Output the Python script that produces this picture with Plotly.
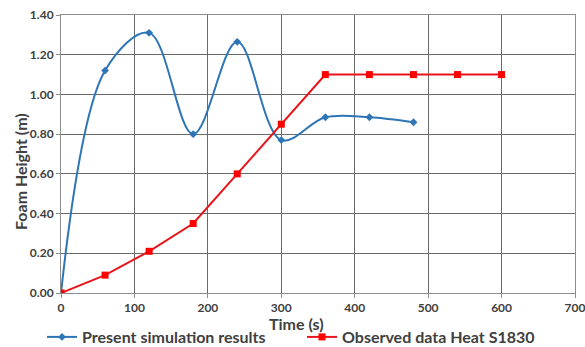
import plotly.graph_objects as go

sim_time = [0, 60, 120, 180, 240, 300, 360, 420, 480]
sim_height = [0.00, 1.12, 1.31, 0.80, 1.265, 0.77, 0.885, 0.885, 0.86]
obs_time = [0, 60, 120, 180, 240, 300, 360, 420, 480, 540, 600]
obs_height = [0.00, 0.09, 0.21, 0.35, 0.60, 0.85, 1.10, 1.10, 1.10, 1.10, 1.10]
x_ticks = [0, 100, 200, 300, 400, 500, 600, 700]
y_ticks = [0.0, 0.2, 0.4, 0.6, 0.8, 1.0, 1.2, 1.4]

FONT = "Lato"
TXT = "#404040"
W, H = 585, 347
L, R, T, B = 61, 10, 15, 54          # page-pixel plot box
PW, PH = W - L - R, H - T - B
BOT = T + PH


def px(x):
    return (x - L) / PW


def py(y):
    return (BOT - y) / PH


fig = go.Figure()
fig.add_trace(go.Scatter(
    x=sim_time, y=sim_height, name="Present simulation results",
    mode="lines+markers", line=dict(color="#2E75B6", width=2, shape="spline", smoothing=1.0),
    marker=dict(symbol="diamond", size=6, color="#2E75B6")))
fig.add_trace(go.Scatter(
    x=obs_time, y=obs_height, name="Observed data Heat S1830",
    mode="lines+markers", line=dict(color="#E8141B", width=2),
    marker=dict(symbol="square", size=7, color="#FF0000")))

axis_common = dict(
    showgrid=True, gridcolor="#6A6A6A", gridwidth=1,
    showline=True, linecolor="#8C8C8C", linewidth=1, mirror=True,
    ticks="outside", ticklen=4, tickcolor="#8C8C8C",
    tickfont=dict(family=FONT, size=12, color=TXT, weight="bold"),
    ticklabeloverflow="allow",
    zeroline=False, automargin=False,
)
fig.update_xaxes(range=[0, 700], tickvals=x_ticks, ticktext=[str(v) for v in x_ticks], **axis_common)
fig.update_yaxes(range=[0, 1.4], tickvals=y_ticks, ticktext=[f"{v:.2f}" for v in y_ticks], **axis_common)

fig.add_annotation(text="Time (s)", xref="paper", yref="paper",
                   x=px(296), y=py(323), showarrow=False,
                   xanchor="center", yanchor="middle",
                   font=dict(family=FONT, size=16, color=TXT, weight="bold"))
fig.add_annotation(text="Foam Height (m)", xref="paper", yref="paper",
                   x=px(20), y=py(172), showarrow=False, textangle=-90,
                   xanchor="center", yanchor="middle",
                   font=dict(family=FONT, size=16, color=TXT, weight="bold"))

fig.update_layout(
    width=W, height=H,
    margin=dict(l=L, r=R, t=T, b=B, autoexpand=False),
    paper_bgcolor="white", plot_bgcolor="white",
    showlegend=True,
    legend=dict(orientation="h", x=px(42), xanchor="left",
                y=py(320), yanchor="top",
                font=dict(family=FONT, size=16, color=TXT, weight="bold"),
                entrywidth=215, entrywidthmode="pixels",
                bgcolor="rgba(0,0,0,0)", itemwidth=30,
                tracegroupgap=0),
)
fig.write_html("out.html",
               config={"displayModeBar": False},
               post_script="document.body.style.margin='0';document.body.style.overflow='hidden';")
